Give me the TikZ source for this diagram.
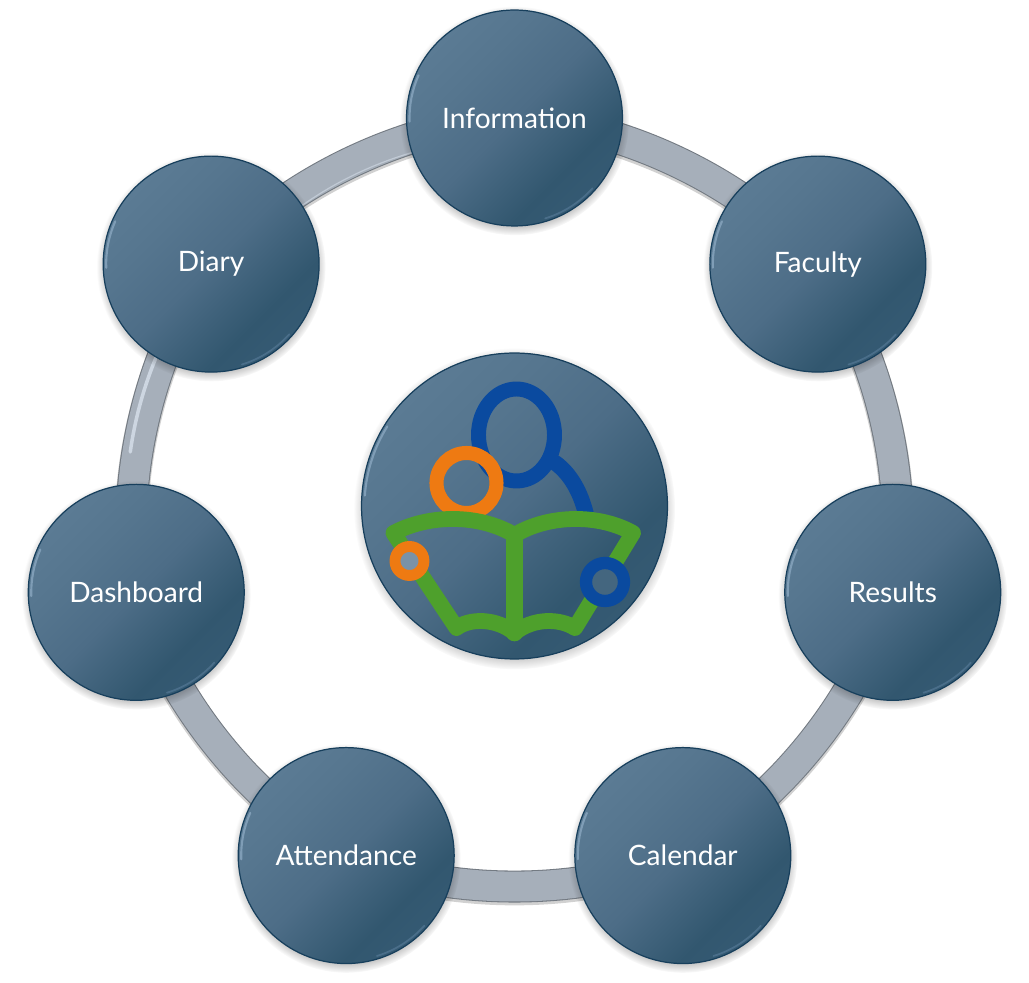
\documentclass[tikz,border=0pt]{standalone}
\usepackage{fontspec}
\setmainfont{Lato}
\usetikzlibrary{backgrounds,shadows}

\definecolor{stagetop}{HTML}{5B7B94}
\definecolor{stagelight}{HTML}{56768F}
\definecolor{stagemid}{HTML}{4D6D87}
\definecolor{stagedark}{HTML}{32576F}
\definecolor{stageedge}{HTML}{355A73}
\definecolor{stageline}{HTML}{173F5C}
\definecolor{rimlight}{HTML}{7F9DB6}
\definecolor{rimdark}{HTML}{4A6E8A}
\definecolor{linkfill}{HTML}{A6AFBA}
\definecolor{linkline}{HTML}{737A82}
\definecolor{linkshine}{HTML}{CDD6E1}
\definecolor{iconblue}{HTML}{0A4A9F}
\definecolor{iconorange}{HTML}{EE7A12}
\definecolor{icongreen}{HTML}{4EA02C}
\definecolor{holelight}{HTML}{7A92A7}
\definecolor{holedark}{HTML}{44667F}

\pgfdeclareverticalshading{stagefill}{100bp}{
    color(0bp)=(stageedge); color(25bp)=(stageedge); color(33bp)=(stagedark);
    color(50bp)=(stagemid); color(64bp)=(stagelight); color(75bp)=(stagetop); color(100bp)=(stagetop)}

\begin{document}
\begin{tikzpicture}[
    x=0.02cm, y=0.02cm,
    every node/.style={font=\fontsize{16}{16}\selectfont, text=white},
    stage/.style={
        circle, draw=stageline, line width=0.7pt,
        minimum size=4.32cm, inner sep=0pt,
        shading=stagefill, shading angle=45,
        circular drop shadow={shadow scale=1.06, shadow xshift=0pt, shadow yshift=-1.5pt, opacity=0.4, fill=black},
        path picture={
            \draw[rimlight, line width=1.2pt, line cap=round]
                (path picture bounding box.center) ++(156:105) arc[start angle=156, end angle=182, radius=105];
            \draw[rimdark, line width=1pt, line cap=round]
                (path picture bounding box.center) ++(287:105) arc[start angle=287, end angle=318, radius=105];
        }
    },
    hub/.style={
        circle, draw=stageline, line width=0.7pt,
        minimum size=6.12cm, inner sep=0pt,
        shading=stagefill, shading angle=45,
        circular drop shadow={shadow scale=1.05, shadow xshift=0pt, shadow yshift=-1.5pt, opacity=0.4, fill=black},
        path picture={
            \draw[rimlight, line width=1.2pt, line cap=round]
                (path picture bounding box.center) ++(148:150) arc[start angle=148, end angle=176, radius=150];
        }
    },
    link/.style={
        draw=linkline, line width=0.6pt, double=linkfill, double distance=17pt,
        bend left=22, looseness=0.84,
        preaction={draw=black!18, double=none, line width=19pt, transform canvas={yshift=-1.2pt}}
    },
    shine/.style={linkshine, line width=2pt, line cap=round},
    iconline/.style={line width=9pt, line cap=round, line join=round}
]
    \useasboundingbox (-514.5,-477) rectangle (514.5,506);

    % Hub and the ring of stages
    \node[hub]   (hub)      at (0,0)        {};
    \node[stage] (info)     at (90:388)     {Information};
    \node[stage] (faculty)  at (38.57:388)  {Faculty};
    \node[stage] (results)  at (-12.86:388) {Results};
    \node[stage] (calendar) at (-64.29:388) {Calendar};
    \node[stage] (attend)   at (-115.71:388) {Attendance};
    \node[stage] (board)    at (-167.14:388) {Dashboard};
    \node[stage] (diary)    at (141.43:388) {Diary};

    % Ring pieces, behind the stages
    \begin{scope}[on background layer]
        \draw[link] (info.center)     to (faculty.center);
        \draw[link] (faculty.center)  to (results.center);
        \draw[link] (results.center)  to (calendar.center);
        \draw[link] (calendar.center) to (attend.center);
        \draw[link] (attend.center)   to (board.center);
        \draw[link] (board.center)    to (diary.center);
        \draw[link] (diary.center)    to (info.center);
        % light edges on the upper left pieces
        \draw[shine] (172:388) arc[start angle=172, end angle=157, radius=388];
        \draw[shine, line width=0.7pt, linkshine!70!linkfill] (130:368) arc[start angle=130, end angle=104, radius=368];
    \end{scope}

    % Reader icon
    \draw[iconblue, line width=8.5pt] (2,71) ellipse [x radius=38, y radius=46];
    \draw[iconblue, iconline] (41,43) .. controls (56,32) and (66,14) .. (71.5,-8);
    \draw[iconorange, line width=8pt] (-48,23) circle (30);
    % book
    \draw[icongreen, iconline]
        (-121,-27) .. controls (-85,-8) and (-35,-8) .. (0,-29)
        .. controls (35,-8) and (85,-8) .. (118.5,-27)
        -- (60.5,-122) .. controls (45,-112) and (18,-112) .. (0,-127)
        .. controls (-18,-112) and (-45,-112) .. (-58,-122) -- cycle;
    \draw[icongreen, line width=9.5pt, line cap=round] (0,-29) -- (0,-127);
    \draw[iconorange, fill=holelight, line width=6.2pt] (-105,-55) circle (14.5);
    \draw[iconblue, fill=holedark, line width=7pt] (90.5,-76) circle (19);
\end{tikzpicture}
\end{document}
